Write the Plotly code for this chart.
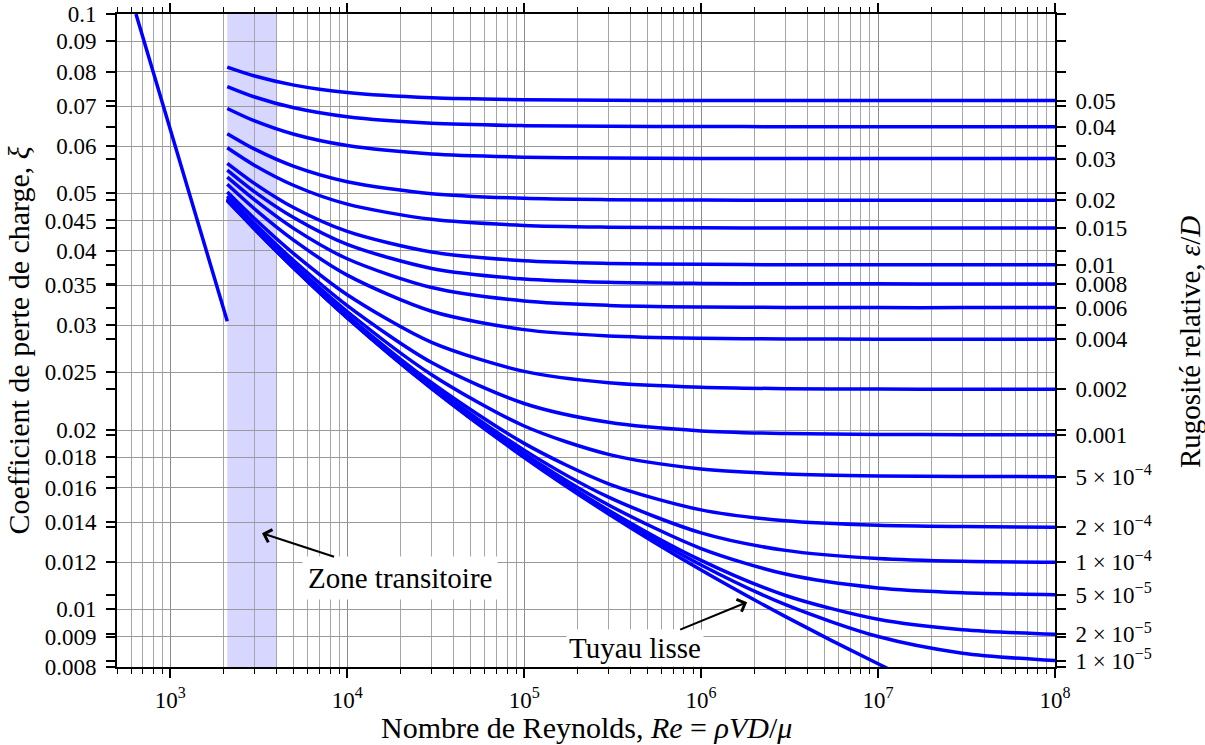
import numpy as np
import plotly.graph_objects as go

# ---------------- data ----------------
re_pts = [2100, 3000, 5000, 1e4, 3e4, 1e5, 3e5, 1e6, 3e6, 1e7, 3e7, 1e8]

re_laminar = [640, 2100]
f_laminar = [0.1, 0.03048]

f_r_5e_2 = [0.08144, 0.07867, 0.07595, 0.0738, 0.07231, 0.07178, 0.07163, 0.07157, 0.07156, 0.07155, 0.07155, 0.07155]
f_r_4e_2 = [0.07553, 0.07254, 0.06957, 0.0672, 0.06553, 0.06493, 0.06476, 0.0647, 0.06468, 0.06467, 0.06467, 0.06467]
f_r_3e_2 = [0.06939, 0.06612, 0.0628, 0.06011, 0.05818, 0.05748, 0.05728, 0.0572, 0.05718, 0.05718, 0.05718, 0.05718]
f_r_2e_2 = [0.06295, 0.05929, 0.05547, 0.05227, 0.04991, 0.04902, 0.04877, 0.04868, 0.04865, 0.04864, 0.04864, 0.04864]
f_r_15e_3 = [0.05961, 0.05567, 0.05151, 0.04793, 0.0452, 0.04415, 0.04385, 0.04374, 0.04371, 0.04369, 0.04369, 0.04369]
f_r_1e_2 = [0.05612, 0.05189, 0.04726, 0.04313, 0.03982, 0.0385, 0.03811, 0.03797, 0.03792, 0.03791, 0.0379, 0.0379]
f_r_8e_3 = [0.05468, 0.05026, 0.04547, 0.04102, 0.03738, 0.03589, 0.03543, 0.03527, 0.03522, 0.03521, 0.0352, 0.0352]
f_r_6e_3 = [0.0532, 0.04872, 0.0436, 0.0388, 0.03471, 0.03295, 0.0324, 0.0322, 0.03214, 0.03212, 0.03212, 0.03212]
f_r_4e_3 = [0.05175, 0.04703, 0.04166, 0.03642, 0.03167, 0.0295, 0.02879, 0.02853, 0.02845, 0.02843, 0.02842, 0.02842]
f_r_2e_3 = [0.05023, 0.04529, 0.03955, 0.03377, 0.02808, 0.0251, 0.02402, 0.02361, 0.02348, 0.02344, 0.02343, 0.02342]
f_r_1e_3 = [0.04947, 0.04443, 0.0385, 0.03237, 0.02597, 0.02217, 0.02061, 0.01994, 0.01974, 0.01967, 0.01965, 0.01964]
f_r_5e_4 = [0.04909, 0.04397, 0.03794, 0.03164, 0.02478, 0.02032, 0.01821, 0.01721, 0.01688, 0.01675, 0.01672, 0.0167]
f_r_2e_4 = [0.04885, 0.04369, 0.0376, 0.03119, 0.02402, 0.019, 0.01625, 0.01469, 0.01408, 0.01384, 0.01377, 0.01374]
f_r_1e_4 = [0.04876, 0.04362, 0.0375, 0.03104, 0.02376, 0.01851, 0.01543, 0.01344, 0.01256, 0.01217, 0.01204, 0.012]
f_r_5e_5 = [0.04872, 0.04356, 0.03745, 0.03096, 0.02362, 0.01826, 0.01497, 0.01265, 0.01146, 0.01086, 0.01066, 0.01058]
f_r_2e_5 = [0.04869, 0.04353, 0.03742, 0.03092, 0.02354, 0.0181, 0.01467, 0.01208, 0.01055, 0.00962, 0.00924, 0.00908]
f_r_1e_5 = [0.04868, 0.04352, 0.0374, 0.0309, 0.02351, 0.01804, 0.01457, 0.01187, 0.01018, 0.009, 0.00844, 0.0082]
f_smooth = [0.04855, 0.04354, 0.0374, 0.03086, 0.02347, 0.01799, 0.01446, 0.01164, 0.00972, 0.0081, 0.00695, 0.00594]

rough_series = [f_r_5e_2, f_r_4e_2, f_r_3e_2, f_r_2e_2, f_r_15e_3, f_r_1e_2, f_r_8e_3,
                f_r_6e_3, f_r_4e_3, f_r_2e_3, f_r_1e_3, f_r_5e_4, f_r_2e_4, f_r_1e_4,
                f_r_5e_5, f_r_2e_5, f_r_1e_5]
rough_labels = ["0.05", "0.04", "0.03", "0.02", "0.015", "0.01", "0.008", "0.006",
                "0.004", "0.002", "0.001",
                "5 × 10<sup>−4</sup>", "2 × 10<sup>−4</sup>", "1 × 10<sup>−4</sup>",
                "5 × 10<sup>−5</sup>", "2 × 10<sup>−5</sup>", "1 × 10<sup>−5</sup>"]

y_tick_vals = [0.1, 0.09, 0.08, 0.07, 0.06, 0.05, 0.045, 0.04, 0.035, 0.03, 0.025,
               0.02, 0.018, 0.016, 0.014, 0.012, 0.01, 0.009, 0.008]
y_tick_text = ["0.1", "0.09", "0.08", "0.07", "0.06", "0.05", "0.045", "0.04", "0.035",
               "0.03", "0.025", "0.02", "0.018", "0.016", "0.014", "0.012", "0.01",
               "0.009", "0.008"]
y_right_minor = [0.008, 0.009, 0.01, 0.02, 0.03, 0.04, 0.05, 0.06, 0.07, 0.08, 0.09, 0.1]

x_tick_vals = [1e3, 1e4, 1e5, 1e6, 1e7, 1e8]
x_tick_text = ["10<sup>3</sup>", "10<sup>4</sup>", "10<sup>5</sup>", "10<sup>6</sup>",
               "10<sup>7</sup>", "10<sup>8</sup>"]
x_minor_vals = [k * 10 ** n for n in range(2, 8) for k in range(2, 10) if 500 <= k * 10 ** n <= 1e8]

x_range = [500, 1e8]
y_range = [0.008, 0.1]
zone_transition = [2100, 4000]

# annotation anchor points (data)
zone_arrow_tip = (3300, 0.01342)
smooth_arrow_tip = (1.82e6, 0.01028)

# ---------------- styling ----------------
FONT = "Liberation Serif"
BLUE = "#0000ff"
LW = 3.5

fig = go.Figure()

fig.add_trace(go.Scatter(x=re_laminar, y=f_laminar, mode="lines",
                         line=dict(color=BLUE, width=LW), showlegend=False, hoverinfo="skip"))
for s in rough_series:
    fig.add_trace(go.Scatter(x=re_pts, y=s, mode="lines",
                             line=dict(color=BLUE, width=LW, shape="spline", smoothing=0.8),
                             showlegend=False, hoverinfo="skip"))
fig.add_trace(go.Scatter(x=re_pts, y=f_smooth, mode="lines",
                         line=dict(color=BLUE, width=LW, shape="spline", smoothing=0.8),
                         showlegend=False, hoverinfo="skip"))

end_vals = [s[-1] for s in rough_series]

fig.add_shape(type="rect", xref="x", yref="paper",
              x0=zone_transition[0], x1=zone_transition[1], y0=0, y1=1,
              fillcolor="rgba(0,0,255,0.16)", line=dict(width=0), layer="below")

tickfont = dict(family=FONT, size=23, color="black")

fig.update_layout(
    width=1205, height=745,
    margin=dict(l=117, r=150, t=14, b=78, autoexpand=False),
    paper_bgcolor="white", plot_bgcolor="white",
    font=dict(family=FONT, color="black"),
    xaxis=dict(
        type="log", range=[np.log10(x_range[0]), np.log10(x_range[1])], automargin=False,
        tickmode="array", tickvals=x_tick_vals, ticktext=x_tick_text,
        ticks="outside", ticklen=9, tickwidth=1.5, tickcolor="black",
        showline=True, linewidth=2, linecolor="black", mirror="ticks",
        showgrid=True, gridcolor="#8c8c8c", gridwidth=1, zeroline=False,
        tickfont=tickfont, ticklabelstandoff=2,
        minor=dict(tickmode="array", tickvals=x_minor_vals, ticks="outside", ticklen=5,
                   tickwidth=1.2, tickcolor="black", showgrid=True,
                   gridcolor="#a6a6a6", gridwidth=1),
    ),
    yaxis=dict(
        type="log", range=[np.log10(y_range[0]), np.log10(y_range[1])], automargin=False,
        tickmode="array", tickvals=y_tick_vals, ticktext=y_tick_text,
        ticks="outside", ticklen=9, tickwidth=1.5, tickcolor="black",
        showline=True, linewidth=2, linecolor="black",
        showgrid=True, gridcolor="#9a9a9a", gridwidth=1, zeroline=False,
        tickfont=tickfont, ticklabelstandoff=5,
        minor=dict(tickmode="array", tickvals=end_vals, ticks="outside", ticklen=9,
                   tickwidth=1.5, tickcolor="black", showgrid=False),
    ),
    yaxis2=dict(
        type="log", range=[np.log10(y_range[0]), np.log10(y_range[1])], automargin=False,
        overlaying="y", side="right",
        tickmode="array", tickvals=end_vals, ticktext=rough_labels,
        ticks="outside", ticklen=9, tickwidth=1.5, tickcolor="black",
        showline=True, linewidth=2, linecolor="black",
        showgrid=False, zeroline=False, tickfont=tickfont, ticklabelstandoff=5,
        minor=dict(tickmode="array", tickvals=y_right_minor, ticks="outside", ticklen=9,
                   tickwidth=1.5, tickcolor="black", showgrid=False),
    ),
)

# invisible trace anchoring the right axis
fig.add_trace(go.Scatter(x=[x_range[1]], y=[y_range[1]], yaxis="y2", mode="markers",
                         marker=dict(opacity=0), showlegend=False, hoverinfo="skip"))

annfont = dict(family=FONT, size=29, color="black")
fig.add_annotation(x=np.log10(zone_arrow_tip[0]), y=np.log10(zone_arrow_tip[1]),
                   xref="x", yref="y", text="Zone transitoire", showarrow=True,
                   ax=138, ay=45, arrowhead=4, arrowsize=1.3, arrowwidth=2,
                   arrowcolor="black", bgcolor="white", borderpad=5, font=annfont)
fig.add_annotation(x=np.log10(smooth_arrow_tip[0]), y=np.log10(smooth_arrow_tip[1]),
                   xref="x", yref="y", text="Tuyau lisse", showarrow=True,
                   ax=-112, ay=46, arrowhead=4, arrowsize=1.3, arrowwidth=2,
                   arrowcolor="black", bgcolor="white", borderpad=2, font=annfont)

fig.add_annotation(text="Nombre de Reynolds, <i>Re</i> = <i>ρVD</i>/<i>μ</i>",
                   xref="paper", yref="paper", x=0.5, y=-0.0919, xanchor="center",
                   yanchor="middle", showarrow=False,
                   font=dict(family=FONT, size=30, color="black"))
fig.add_annotation(text="Coefficient de perte de charge, <i>ξ</i>",
                   xref="paper", yref="paper", x=-0.1055, y=0.5, xanchor="center",
                   yanchor="middle", showarrow=False, textangle=-90,
                   font=dict(family=FONT, size=30, color="black"))
fig.add_annotation(text="Rugosité relative, <i>ε</i>/<i>D</i>",
                   xref="paper", yref="paper", x=1.1439, y=0.4977, xanchor="center",
                   yanchor="middle", showarrow=False, textangle=-90,
                   font=dict(family=FONT, size=29, color="black"))

fig.write_html("out.html", config={"displayModeBar": False},
               post_script="document.body.style.margin='0';")
